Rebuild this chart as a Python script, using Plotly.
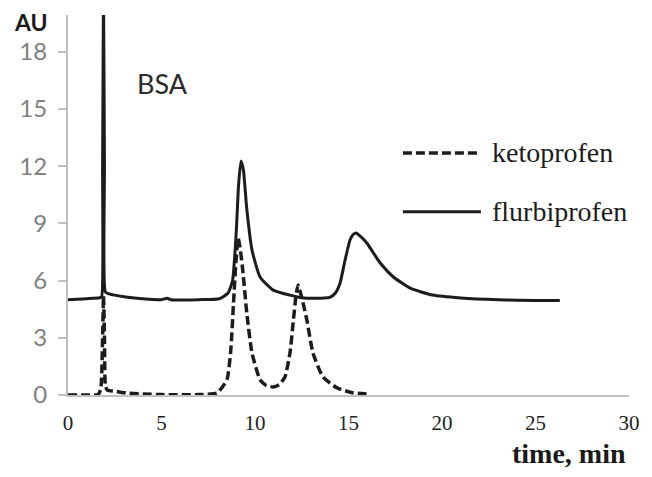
import plotly.graph_objects as go

# ---- data ----
flurbi_t = [0, 1.0, 1.7, 1.8, 1.85, 1.9, 1.95, 2.0, 2.2, 3.0, 4.0, 5.0, 5.3, 5.5, 7.0, 8.1,
            8.56, 8.8, 9.0, 9.12, 9.25, 9.38, 9.55, 9.84, 10.27, 10.97, 11.87, 12.5, 13.5,
            14.0, 14.3, 14.55, 14.8, 15.08, 15.25, 15.4, 15.55, 15.98, 16.3, 16.7, 17.4, 18.3,
            19.5, 21.0, 23.0, 26.3]
flurbi_y = [5.0, 5.05, 5.1, 5.15, 12.0, 21.0, 12.0, 5.4, 5.3, 5.15, 5.05, 5.0, 5.08, 5.0, 5.0, 5.05,
            5.35, 6.0, 8.6, 11.0, 12.27, 11.8, 9.86, 7.6, 6.19, 5.5, 5.24, 5.1, 5.08,
            5.12, 5.35, 5.87, 7.0, 8.13, 8.42, 8.5, 8.4, 7.97, 7.5, 6.92, 6.19, 5.6,
            5.24, 5.09, 5.0, 4.95]

keto_t = [0, 1.0, 1.6, 1.75, 1.85, 1.9, 1.95, 2.0, 2.1, 2.5, 3.0, 4.0, 5.0, 7.0, 7.97, 8.5,
          8.7, 8.85, 8.98, 9.1, 9.22, 9.36, 9.56, 9.84, 10.27, 10.6, 10.97, 11.3, 11.6,
          11.87, 12.05, 12.18, 12.3, 12.42, 12.6, 12.78, 13.1, 13.64, 14.4, 15.2, 16.1]
keto_y = [0, 0, 0.02, 0.3, 3.0, 5.2, 3.0, 0.5, 0.25, 0.2, 0.12, 0.05, 0.02, 0.02, 0.1, 0.8,
          2.3, 4.8, 7.0, 8.23, 7.6, 6.4, 4.3, 2.2, 0.8, 0.5, 0.42, 0.55, 0.94,
          2.2, 3.9, 5.1, 5.77, 5.4, 4.7, 3.9, 2.2, 0.94, 0.37, 0.12, 0.05]

x_ticks = [0, 5, 10, 15, 20, 25, 30]
y_ticks = [0, 3, 6, 9, 12, 15, 18]

INK = "#1c1c1c"

fig = go.Figure()
fig.add_trace(go.Scatter(x=keto_t, y=keto_y, mode="lines", name="ketoprofen",
                         line=dict(color=INK, width=3.5, dash="9px,4px", shape="spline", smoothing=0.5)))
fig.add_trace(go.Scatter(x=flurbi_t, y=flurbi_y, mode="lines", name="flurbiprofen",
                         line=dict(color=INK, width=3, shape="spline", smoothing=0.5)))

fig.update_layout(
    width=652, height=477,
    margin=dict(l=68, r=23, t=15, b=82, autoexpand=False),
    paper_bgcolor="white", plot_bgcolor="white",
    showlegend=False,
    xaxis=dict(range=[0, 30], tickvals=x_ticks, showgrid=False, zeroline=False, automargin=False,
               showline=True, linecolor="#c0c0c0", linewidth=2, ticks="",
               tickfont=dict(family="Liberation Serif", size=21, color="#222222"),
               ticklabelstandoff=8),
    yaxis=dict(range=[0, 19.93], tickvals=y_ticks, showgrid=False, zeroline=False, automargin=False,
               showline=True, linecolor="#c0c0c0", linewidth=2, ticks="outside",
               ticklen=8, tickcolor="#c0c0c0", tickwidth=1.5,
               tickfont=dict(family="Lato", size=24, color="#7f7f7f"),
               ticklabelstandoff=6),
)

# custom legend
fig.add_shape(type="line", xref="paper", yref="paper", x0=0.597, x1=0.734, y0=0.637, y1=0.637,
              line=dict(color=INK, width=3.5, dash="9px,4px"))
fig.add_shape(type="line", xref="paper", yref="paper", x0=0.597, x1=0.736, y0=0.482, y1=0.482,
              line=dict(color=INK, width=3))
fig.add_annotation(xref="paper", yref="paper", x=0.752, y=0.637, text="ketoprofen",
                   showarrow=False, xanchor="left", yanchor="middle",
                   font=dict(family="Liberation Serif", size=28, color=INK))
fig.add_annotation(xref="paper", yref="paper", x=0.752, y=0.482, text="flurbiprofen",
                   showarrow=False, xanchor="left", yanchor="middle",
                   font=dict(family="Liberation Serif", size=28, color=INK))

fig.add_annotation(xref="paper", yref="paper", x=0.119, y=0.821, text="BSA",
                   showarrow=False, xanchor="left", yanchor="middle",
                   font=dict(family="Lato", size=27, color="#2a2a2a"))
fig.add_annotation(xref="paper", yref="paper", x=-0.10, y=0.982, text="<b>AU</b>",
                   showarrow=False, xanchor="left", yanchor="middle",
                   font=dict(family="Lato", size=23, color="#1a1a1a"))
fig.add_annotation(xref="paper", yref="paper", x=0.998, y=-0.155, text="<b>time, min</b>",
                   showarrow=False, xanchor="right", yanchor="middle",
                   font=dict(family="Liberation Serif", size=28, color="#1a1a1a"))

fig.write_html("out.html", config={"displayModeBar": False},
               post_script="document.body.style.margin='0px';")
